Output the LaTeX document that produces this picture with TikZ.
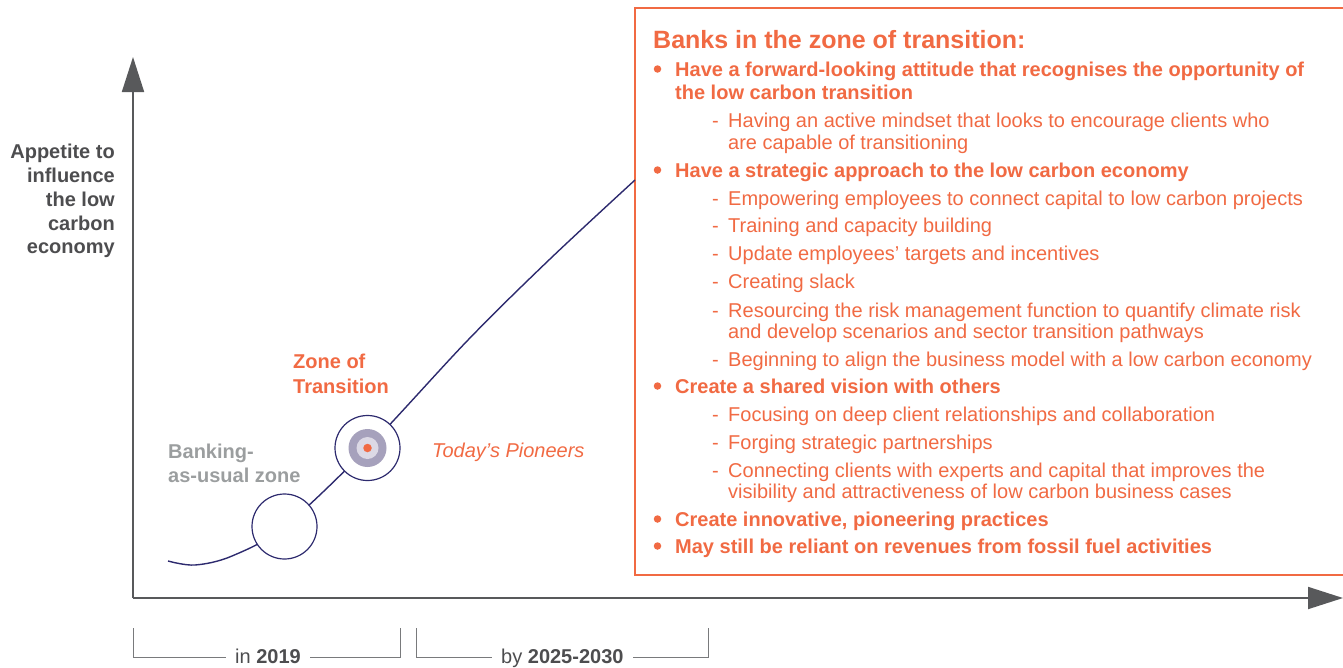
\documentclass[tikz,border=0pt]{standalone}
\usepackage{fontspec}
\setmainfont{Liberation Sans}
\usetikzlibrary{arrows.meta}
\definecolor{orng}{RGB}{241,106,67}
\definecolor{dgrey}{RGB}{77,77,79}
\definecolor{lgrey}{RGB}{155,158,159}
\definecolor{axisc}{RGB}{88,89,91}
\definecolor{navy}{RGB}{45,42,110}
\definecolor{tgtout}{RGB}{166,161,188}
\definecolor{tgtin}{RGB}{220,217,229}
\begin{document}
\begin{tikzpicture}[x=1pt,y=-1pt,
  txtbase/.style={inner sep=0pt, font=\fontsize{20}{24}\selectfont},
  lw/.style={txtbase, anchor=base west},
  le/.style={txtbase, anchor=base east},
  boldo/.style={lw, text=orng, font=\fontsize{20}{24}\selectfont\bfseries},
  subo/.style={lw, text=orng},
  bul/.style={circle, fill=orng, minimum size=7.5pt, inner sep=0pt},
  axisline/.style={draw=axisc, line width=1.8pt, -{Triangle[length=35pt,width=22pt]}},
  bracket/.style={draw=axisc!80, line width=0.9pt},
  curveline/.style={draw=navy, line width=1.4pt},
  ring/.style={circle, draw=navy, line width=1.2pt, fill=white, minimum size=65pt, inner sep=0pt}
]
\useasboundingbox (0,0) rectangle (1343,667);

% orange box
\draw[orng, line width=2.2pt, fill=white] (1360,8) -- (635,8) -- (635,575) -- (1360,575);

% axes
\coordinate (origin) at (133,598);
\coordinate (ytip) at (133,57);
\coordinate (xtip) at (1343,598);
\draw[axisline] (origin) -- (ytip);
\draw[axisline] (origin) -- (xtip);

% axis label
\node[le, text=dgrey, font=\fontsize{20}{24}\selectfont\bfseries] (ya) at (115,158) {Appetite to};
\node[le, text=dgrey, font=\fontsize{20}{24}\selectfont\bfseries] (yb) at (115,182) {influence};
\node[le, text=dgrey, font=\fontsize{20}{24}\selectfont\bfseries] (yc) at (115,206) {the low};
\node[le, text=dgrey, font=\fontsize{20}{24}\selectfont\bfseries] (yd) at (115,230) {carbon};
\node[le, text=dgrey, font=\fontsize{20}{24}\selectfont\bfseries] (ye) at (115,253) {economy};

% curve
\draw[curveline] plot[smooth, tension=0.55] coordinates {(168,561) (195,565) (232,556) (284.5,526.5) (367.5,448) (468,340) (550,259) (635,180)};

% circles
\node[ring] (bau) at (284.5,526.5) {};
\node[ring] (zot) at (367.5,448) {};
\node[circle, fill=tgtout, minimum size=38pt, inner sep=0pt] (tgt1) at (zot) {};
\node[circle, fill=tgtin, minimum size=22pt, inner sep=0pt] (tgt2) at (zot) {};
\node[circle, fill=orng, minimum size=8.5pt, inner sep=0pt] (tgt3) at (zot) {};

% curve labels
\node[boldo] (zl1) at (293,368) {Zone of};
\node[boldo] (zl2) at (293,393) {Transition};
\node[lw, text=lgrey, font=\fontsize{20}{24}\selectfont\bfseries] (bl1) at (168,458) {Banking-};
\node[lw, text=lgrey, font=\fontsize{20}{24}\selectfont\bfseries] (bl2) at (168,482) {as-usual zone};
\node[lw, text=orng, font=\fontsize{20}{24}\selectfont\itshape] (tp) at (432,457) {Today’s Pioneers};

% box content
\node[lw, text=orng, font=\fontsize{25}{30}\selectfont\bfseries] (title) at (653,48) {Banks in the zone of transition:};

\node[bul] (b1) at (657.5,69) {};
\node[boldo] (t1a) at (675,76) {Have a forward-looking attitude that recognises the opportunity of};
\node[boldo] (t1b) at (675,99) {the low carbon transition};
\node[subo] (d11) at (712,127) {-};
\node[subo] (s11a) at (728,127) {Having an active mindset that looks to encourage clients who};
\node[subo] (s11b) at (728,149) {are capable of transitioning};

\node[bul] (b2) at (657.5,170) {};
\node[boldo] (t2) at (675,177) {Have a strategic approach to the low carbon economy};
\node[subo] (d21) at (712,205) {-};
\node[subo] (s21) at (728,205) {Empowering employees to connect capital to low carbon projects};
\node[subo] (d22) at (712,232) {-};
\node[subo] (s22) at (728,232) {Training and capacity building};
\node[subo] (d23) at (712,260) {-};
\node[subo] (s23) at (728,260) {Update employees’ targets and incentives};
\node[subo] (d24) at (712,288) {-};
\node[subo] (s24) at (728,288) {Creating slack};
\node[subo] (d25) at (712,317) {-};
\node[subo] (s25a) at (728,317) {Resourcing the risk management function to quantify climate risk};
\node[subo] (s25b) at (728,338) {and develop scenarios and sector transition pathways};
\node[subo] (d26) at (712,366) {-};
\node[subo] (s26) at (728,366) {Beginning to align the business model with a low carbon economy};

\node[bul] (b3) at (657.5,386) {};
\node[boldo] (t3) at (675,393) {Create a shared vision with others};
\node[subo] (d31) at (712,421) {-};
\node[subo] (s31) at (728,421) {Focusing on deep client relationships and collaboration};
\node[subo] (d32) at (712,449) {-};
\node[subo] (s32) at (728,449) {Forging strategic partnerships};
\node[subo] (d33) at (712,477) {-};
\node[subo] (s33a) at (728,477) {Connecting clients with experts and capital that improves the};
\node[subo] (s33b) at (728,498) {visibility and attractiveness of low carbon business cases};

\node[bul] (b4) at (657.5,519) {};
\node[boldo] (t4) at (675,526) {Create innovative, pioneering practices};
\node[bul] (b5) at (657.5,546) {};
\node[boldo] (t5) at (675,553) {May still be reliant on revenues from fossil fuel activities};

% time brackets
\node[lw, text=dgrey] (in19) at (235,663) {in \textbf{2019}};
\node[lw, text=dgrey] (by25) at (501,663) {by \textbf{2025-2030}};
\coordinate (br1a) at (133,628);
\coordinate (br1b) at (400,628);
\coordinate (br2a) at (416,628);
\coordinate (br2b) at (708,628);
\draw[bracket] (br1a) |- ([xshift=-9pt,yshift=6pt]in19.base west);
\draw[bracket] (br1b) |- ([xshift=9pt,yshift=6pt]in19.base east);
\draw[bracket] (br2a) |- ([xshift=-9pt,yshift=6pt]by25.base west);
\draw[bracket] (br2b) |- ([xshift=9pt,yshift=6pt]by25.base east);
\end{tikzpicture}
\end{document}
